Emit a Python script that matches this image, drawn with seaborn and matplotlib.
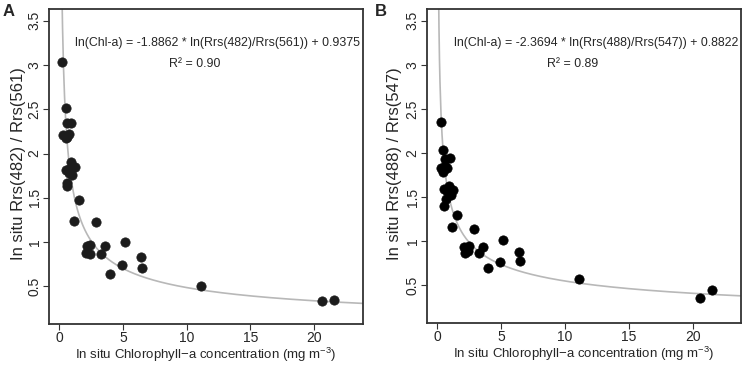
import numpy as np
import pandas as pd
import matplotlib
matplotlib.use("Agg")
import matplotlib.pyplot as plt
import seaborn as sns

# Panel A: Rrs(482)/Rrs(561)
chl_a = [0.23, 0.49, 0.62, 0.95, 0.26, 0.49, 0.75, 0.64, 0.90, 0.49, 0.75, 1.21,
         1.03, 0.75, 0.64, 0.57, 1.54, 1.14, 2.89, 2.16, 2.42, 2.10, 2.42, 3.27,
         3.60, 5.15, 4.90, 3.97, 6.39, 6.49, 11.15, 20.65, 21.55]
ratio_a = [3.04, 2.51, 2.34, 2.35, 2.21, 2.18, 2.22, 2.19, 1.90, 1.81, 1.83, 1.85,
           1.76, 1.78, 1.67, 1.63, 1.47, 1.24, 1.23, 0.95, 0.97, 0.88, 0.87, 0.87,
           0.95, 1.00, 0.74, 0.64, 0.83, 0.71, 0.50, 0.33, 0.34]

# Panel B: Rrs(488)/Rrs(547)
chl_b = [0.26, 0.47, 0.57, 0.96, 0.26, 0.44, 0.78, 0.60, 0.52, 0.91, 1.23, 1.04,
         0.73, 0.65, 0.54, 1.55, 1.16, 2.86, 2.09, 2.48, 2.14, 2.43, 3.25, 3.59,
         5.14, 4.88, 4.00, 6.38, 6.48, 11.10, 20.55, 21.47]
ratio_b = [2.35, 2.03, 1.93, 1.94, 1.83, 1.79, 1.83, 1.85, 1.59, 1.63, 1.58, 1.53,
           1.57, 1.48, 1.40, 1.30, 1.16, 1.14, 0.93, 0.95, 0.87, 0.89, 0.87, 0.93,
           1.01, 0.77, 0.70, 0.88, 0.78, 0.575, 0.36, 0.45]

# fit coefficients: ln(Chl-a) = slope * ln(ratio) + icpt
slope_a, icpt_a, r2_a = -1.8862, 0.9375, 0.90
slope_b, icpt_b, r2_b = -2.3694, 0.8822, 0.89

x_ticks = [0, 5, 10, 15, 20]
y_ticks = [0.5, 1, 1.5, 2, 2.5, 3, 3.5]
y_ticklabels = ["0.5", "1", "1.5", "2", "2.5", "3", "3.5"]

sns.set_style("white")
plt.rcParams["font.family"] = ["Liberation Sans", "DejaVu Sans"]
plt.rcParams["mathtext.fontset"] = "custom"
plt.rcParams["mathtext.rm"] = "Liberation Sans"
plt.rcParams["mathtext.it"] = "Liberation Sans"

fig = plt.figure(figsize=(7.48, 3.68), dpi=100)
ax_a = fig.add_axes([0.0659, 0.1188, 0.4194, 0.8559])
ax_b = fig.add_axes([0.5713, 0.1215, 0.4193, 0.8532])

panels = [
    (ax_a, chl_a, ratio_a, slope_a, icpt_a, r2_a, "482", "561", (-0.79, 23.85), "#1c1c1c", -0.099, -0.097),
    (ax_b, chl_b, ratio_b, slope_b, icpt_b, r2_b, "488", "547", (-0.78, 23.76), "black", -0.106, -0.099),
]

for ax, chl, ratio, slope, icpt, r2, b1, b2, xlim, col, ylab_x, xlab_y in panels:
    # fitted curve from the printed equation
    cgrid = np.linspace(0.05, 24, 600)
    fit = pd.DataFrame({"chl": cgrid, "ratio": np.exp((np.log(cgrid) - icpt) / slope)})
    sns.lineplot(data=fit, x="chl", y="ratio", ax=ax, color="#b8b8b8", lw=1.2)

    df = pd.DataFrame({"chl": chl, "ratio": ratio})
    sns.scatterplot(data=df, x="chl", y="ratio", ax=ax, color=col, s=45,
                    edgecolor=col, linewidth=0.5, zorder=3)

    ax.set_xlim(*xlim)
    ax.set_ylim(0.07, 3.63)
    ax.set_xticks(x_ticks)
    ax.set_yticks(y_ticks)
    ax.set_yticklabels(y_ticklabels, rotation=90, va="center")
    ax.tick_params(axis="both", direction="out", length=4, width=0.8,
                   color="#333333", labelsize=10, bottom=True, left=True)
    ax.tick_params(axis="y", pad=1.5)
    ax.tick_params(axis="x", pad=1)
    for sp in ax.spines.values():
        sp.set_color("#333333")
        sp.set_linewidth(1.3)

    ax.set_xlabel("In situ Chlorophyll\u2212a concentration (mg m$^{-3}$)", fontsize=9.5, va="center")
    ax.set_ylabel(f"In situ Rrs({b1}) / Rrs({b2})", fontsize=12, va="center")
    ax.xaxis.set_label_coords(0.5, xlab_y)
    ax.yaxis.set_label_coords(ylab_x, 0.51)

    ax.text(12.4, 3.25,
            f"ln(Chl-a) = {slope:.4f} * ln(Rrs({b1})/Rrs({b2})) + {icpt:.4f}",
            ha="center", va="center", fontsize=8.9)
    ax.text(10.6, 3.01, f"R\u00b2 = {r2:.2f}", ha="center", va="center", fontsize=8.9)

fig.text(0.011, 0.968, "A", fontsize=12, fontweight="bold", ha="center", va="center")
fig.text(0.509, 0.968, "B", fontsize=12, fontweight="bold", ha="center", va="center")

fig.savefig("out.png", dpi=100)
